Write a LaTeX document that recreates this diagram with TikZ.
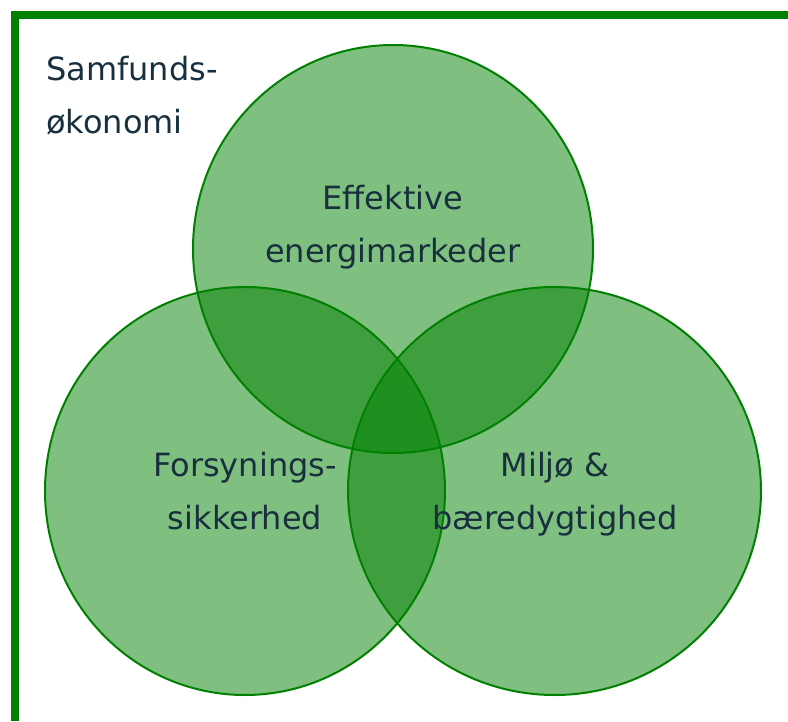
\documentclass[tikz,border=0pt]{standalone}
\usepackage{fontspec}
\setmainfont{DejaVu Sans}
\definecolor{vgreen}{RGB}{0,128,0}
\definecolor{vtext}{RGB}{24,48,62}

\newcommand\vfont{\fontsize{32}{53}\selectfont}
\newcommand\rx{200pt}
\newcommand\ry{204pt}

\tikzset{
  venn/.style={draw=vgreen,line width=2pt,fill=vgreen,fill opacity=0.5,draw opacity=1},
  label/.style={text=vtext,font=\vfont,align=center,inner sep=0pt,anchor=base},
  frame/.style={draw=vgreen,line width=8pt,line join=miter}
}

\begin{document}
\begin{tikzpicture}[x=1pt,y=-1pt]
    \useasboundingbox (0,0) rectangle (788,721);

    % frame round the whole
    \draw[frame] (15,721) -- (15,15) -- (788,15);

    % the three circles
    \path[venn] (245,491) ellipse [x radius=\rx,y radius=\ry];
    \path[venn] (554.5,491) ellipse [x radius=206.5pt,y radius=\ry];
    \path[venn] (393,249) ellipse [x radius=\rx,y radius=\ry];

    % labels (base is the last line)
    \node[label,align=left,anchor=base west] (samf) at (46,133) {Samfunds-\\økonomi};
    \node[label] (eff) at (393,262) {Effektive\\energimarkeder};
    \node[label] (fors) at (245,529) {Forsynings-\\sikkerhed};
    \node[label] (milj) at (555,529) {Miljø \&\\bæredygtighed};
\end{tikzpicture}
\end{document}
